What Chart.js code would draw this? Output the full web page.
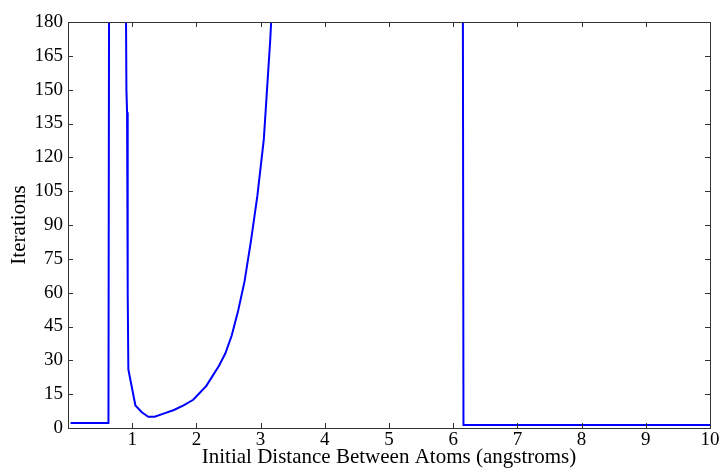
<!DOCTYPE html>
<html>
<head>
<meta charset="utf-8">
<script src="https://cdn.jsdelivr.net/npm/chart.js@4"></script>
<style>
  html, body { margin: 0; padding: 0; background: #fff; }
  #wrap { width: 723px; height: 468px; }
</style>
</head>
<body>
<div id="wrap"><canvas id="chart"></canvas></div>
<script>
// distance (angstroms) vs iterations
// values above 180 run off the top of the plot and get clipped
const distances = [0.04, 0.63, 0.64, 0.90, 0.91, 0.92, 0.93, 0.94, 1.05, 1.15, 1.25, 1.35, 1.5, 1.65,
  1.8, 1.95, 2.05, 2.1, 2.15, 2.25, 2.35, 2.45, 2.55, 2.65, 2.75, 2.85, 2.95, 3.05, 3.1, 3.15, 3.2,
  6.15, 6.16, 10];
const iterations = [2.2, 2.2, 200, 200, 150, 140, 60, 26, 10, 7, 5, 5, 6.5, 8,
  10, 12.5, 15.5, 17, 18.5, 23, 27.5, 33, 41, 52, 65, 83, 103, 128, 150, 172, 200,
  200, 1.3, 1.3];
const xTicks = [1, 2, 3, 4, 5, 6, 7, 8, 9, 10];
const yTicks = [0, 15, 30, 45, 60, 75, 90, 105, 120, 135, 150, 165, 180];

const family = "'Liberation Serif', 'DejaVu Serif', serif";
const tickFont = { family, size: 19 };
const titleFont = { family, size: 21, lineHeight: 1 };
const axisColor = "#333";

// matlab style ticks pointing into the box, on all four sides
const innerTicks = {
  id: "innerTicks",
  afterDatasetsDraw(chart) {
    const { ctx, chartArea: a, scales } = chart;
    const len = 5;
    ctx.save();
    ctx.strokeStyle = axisColor;
    ctx.lineWidth = 1;
    ctx.beginPath();
    xTicks.forEach((v) => {
      const px = Math.round(scales.x.getPixelForValue(v)) + 0.5;
      ctx.moveTo(px, a.bottom); ctx.lineTo(px, a.bottom - len);
      ctx.moveTo(px, a.top); ctx.lineTo(px, a.top + len);
    });
    yTicks.forEach((v) => {
      const py = Math.round(scales.y.getPixelForValue(v)) + 0.5;
      ctx.moveTo(a.left, py); ctx.lineTo(a.left + len, py);
      ctx.moveTo(a.right, py); ctx.lineTo(a.right - len, py);
    });
    ctx.stroke();
    ctx.strokeRect(a.left + 0.5, a.top + 0.5, a.right - a.left, a.bottom - a.top);
    ctx.restore();
  },
};

new Chart(document.getElementById("chart"), {
  type: "line",
  data: {
    datasets: [
      {
        data: distances.map((d, i) => ({ x: d, y: iterations[i] })),
        borderColor: "#0000ff",
        borderWidth: 2,
        pointRadius: 0,
        tension: 0,
        fill: false,
      },
    ],
  },
  options: {
    responsive: true,
    maintainAspectRatio: false,
    animation: false,
    layout: { padding: { top: 22, right: 13, left: 0, bottom: 0 } },
    plugins: { legend: { display: false }, tooltip: { enabled: false } },
    scales: {
      x: {
        type: "linear",
        min: 0,
        max: 10,
        afterBuildTicks: (s) => { s.ticks = xTicks.map((v) => ({ value: v })); },
        afterFit: (s) => { s.height = 40; },
        ticks: { color: "#000", font: tickFont, padding: 1, maxRotation: 0 },
        grid: { display: false, drawTicks: false },
        border: { display: false },
        title: { display: true, text: "Initial Distance Between Atoms (angstroms)", color: "#000", font: titleFont, padding: { top: 0, bottom: 0 } },
      },
      y: {
        min: 0,
        max: 180,
        afterBuildTicks: (s) => { s.ticks = yTicks.map((v) => ({ value: v })); },
        afterFit: (s) => { s.width = 68; },
        ticks: { color: "#000", font: tickFont, padding: 5 },
        grid: { display: false, drawTicks: false },
        border: { display: false },
        title: { display: true, text: "Iterations", color: "#000", font: titleFont, padding: { top: 9, bottom: 0 } },
      },
    },
  },
  plugins: [innerTicks],
});
</script>
</body>
</html>
